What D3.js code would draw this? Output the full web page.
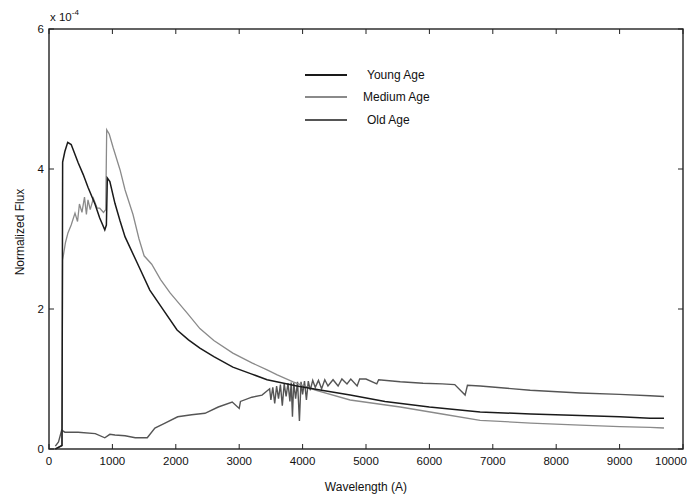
<!DOCTYPE html>
<html>
<head>
<meta charset="utf-8">
<script src="https://cdn.jsdelivr.net/npm/d3@7"></script>
<style>
  body { margin: 0; background: #fff; }
  svg text { font-family: "Liberation Sans", Arial, sans-serif; fill: #111; }
</style>
</head>
<body>
<svg id="vis"></svg>
<script>
// values are in units of 1e-4, wavelength in Angstrom
var youngAge = [
  [100, 0], [205, 0.05], [215, 4.1], [250, 4.25], [295, 4.38], [350, 4.35], [460, 4.09],
  [540, 3.92], [615, 3.74], [725, 3.5], [800, 3.3], [880, 3.13], [905, 3.2],
  [920, 3.87], [960, 3.82], [1040, 3.51], [1120, 3.26], [1200, 3.03], [1390, 2.66],
  [1590, 2.27], [1800, 1.99], [2020, 1.7], [2200, 1.56], [2380, 1.44], [2600, 1.32],
  [2900, 1.17], [3200, 1.07], [3440, 0.99], [3910, 0.9], [4300, 0.84], [4750, 0.77],
  [5300, 0.68], [6000, 0.6], [6800, 0.53], [7600, 0.5], [8375, 0.48], [9000, 0.46],
  [9480, 0.44], [9700, 0.44]
];

var mediumAge = [
  [100, 0], [205, 0.05], [215, 2.7], [260, 2.95], [300, 3.09], [350, 3.2], [410, 3.37],
  [450, 3.25], [480, 3.5], [520, 3.38], [560, 3.6], [590, 3.35], [615, 3.56],
  [650, 3.42], [700, 3.58], [760, 3.44], [800, 3.44], [860, 3.38], [895, 3.42],
  [910, 4.56], [950, 4.5], [1010, 4.31], [1120, 3.99], [1200, 3.7], [1325, 3.35],
  [1420, 3.0], [1500, 2.76], [1620, 2.64], [1760, 2.42], [1910, 2.23], [2180, 1.94],
  [2380, 1.72], [2600, 1.55], [2900, 1.37], [3200, 1.23], [3440, 1.13], [3600, 1.06],
  [3850, 0.96], [4200, 0.84], [4750, 0.7], [5540, 0.6], [6200, 0.5], [6800, 0.41],
  [7600, 0.37], [8375, 0.34], [9000, 0.32], [9480, 0.31], [9700, 0.3]
];

var oldAge = [
  [100, 0.04], [150, 0.1], [200, 0.27], [250, 0.24], [460, 0.24], [730, 0.22],
  [880, 0.16], [960, 0.21], [1040, 0.2], [1200, 0.19], [1360, 0.16], [1550, 0.16],
  [1670, 0.3], [1830, 0.37], [2030, 0.46], [2250, 0.49], [2460, 0.51], [2670, 0.6],
  [2890, 0.67], [3000, 0.58], [3020, 0.68], [3200, 0.74], [3360, 0.77], [3480, 0.86],
  [3500, 0.7], [3530, 0.88], [3560, 0.65], [3590, 0.9], [3620, 0.72], [3650, 0.92],
  [3680, 0.62], [3710, 0.93], [3740, 0.75], [3770, 0.94], [3800, 0.68], [3820, 0.95],
  [3840, 0.46], [3860, 0.95], [3890, 0.72], [3920, 0.96], [3950, 0.4], [3975, 0.96],
  [4000, 0.78], [4030, 0.97], [4060, 0.7], [4090, 0.97], [4120, 0.84], [4160, 0.98],
  [4200, 0.88], [4250, 0.98], [4300, 0.86], [4350, 0.99], [4400, 0.9], [4480, 0.99],
  [4560, 0.9], [4620, 1.0], [4700, 0.93], [4760, 1.0], [4860, 0.9], [4900, 1.0],
  [5000, 1.0], [5170, 0.93], [5200, 0.99], [5540, 0.96], [5900, 0.94], [6200, 0.93],
  [6400, 0.92], [6563, 0.77], [6600, 0.91], [6800, 0.9], [7590, 0.84], [8375, 0.8],
  [9000, 0.78], [9480, 0.76], [9700, 0.75]
];

var seriesNames = ["Young Age", "Medium Age", "Old Age"];
var seriesColors = ["#1a1a1a", "#8a8a8a", "#555555"];
var xTicks = [0, 1000, 2000, 3000, 4000, 5000, 6000, 7000, 8000, 9000, 10000];
var yTicks = [0, 2, 4, 6];

var W = 688, H = 499;
var pLeft = 49, pRight = 683, pTop = 29, pBottom = 449;

var svg = d3.select("#vis").attr("width", W).attr("height", H);

var x = d3.scaleLinear().domain([0, 10000]).range([pLeft, pRight]);
var y = d3.scaleLinear().domain([0, 6]).range([pBottom, pTop]);

var line = d3.line()
  .x(function(d) { return x(d[0]); })
  .y(function(d) { return y(d[1]); });

// curves
var allSeries = [youngAge, mediumAge, oldAge];
var widths = [1.5, 1.3, 1.4];
[2, 1, 0].forEach(function(i) {
  svg.append("path")
    .datum(allSeries[i])
    .attr("fill", "none")
    .attr("stroke", seriesColors[i])
    .attr("stroke-width", widths[i])
    .attr("d", line);
});

// frame with inward ticks
var frame = "#222";
svg.append("rect")
  .attr("x", pLeft).attr("y", pTop)
  .attr("width", pRight - pLeft).attr("height", pBottom - pTop)
  .attr("fill", "none").attr("stroke", frame).attr("stroke-width", 1.4);

var tl = 5;
xTicks.forEach(function(t, i) {
  svg.append("line").attr("x1", x(t)).attr("x2", x(t))
    .attr("y1", pBottom).attr("y2", pBottom - tl).attr("stroke", frame);
  svg.append("line").attr("x1", x(t)).attr("x2", x(t))
    .attr("y1", pTop).attr("y2", pTop + tl).attr("stroke", frame);
  // last label would run off the page, so pin it to the right edge
  var last = i == xTicks.length - 1;
  svg.append("text").attr("x", last ? W - 1 : x(t)).attr("y", pBottom + 16)
    .attr("text-anchor", last ? "end" : "middle").style("font-size", "11.5px").text(t);
});
yTicks.forEach(function(t) {
  svg.append("line").attr("x1", pLeft).attr("x2", pLeft + tl)
    .attr("y1", y(t)).attr("y2", y(t)).attr("stroke", frame);
  svg.append("line").attr("x1", pRight).attr("x2", pRight - tl)
    .attr("y1", y(t)).attr("y2", y(t)).attr("stroke", frame);
  svg.append("text").attr("x", pLeft - 5).attr("y", y(t) + 4)
    .attr("text-anchor", "end").style("font-size", "11.5px").text(t);
});

// exponent
var ex = svg.append("text").attr("x", 50).attr("y", 21).style("font-size", "11.5px");
ex.append("tspan").text("x 10");
ex.append("tspan").attr("dy", -6).style("font-size", "8px").text("-4");

// axis titles
svg.append("text").attr("x", (pLeft + pRight) / 2).attr("y", 491)
  .attr("text-anchor", "middle").style("font-size", "12px").text("Wavelength (A)");
svg.append("text").attr("transform", "translate(24,232) rotate(-90)")
  .attr("text-anchor", "middle").style("font-size", "12px").text("Normalized Flux");

// legend
var legY = [75, 97, 120];
var legTextX = [367, 363, 367];
seriesNames.forEach(function(name, i) {
  svg.append("line").attr("x1", 305).attr("x2", 347)
    .attr("y1", legY[i]).attr("y2", legY[i])
    .attr("stroke", seriesColors[i]).attr("stroke-width", 2);
  svg.append("text").attr("x", legTextX[i]).attr("y", legY[i] + 4)
    .style("font-size", "12px").text(name);
});
</script>
</body>
</html>
